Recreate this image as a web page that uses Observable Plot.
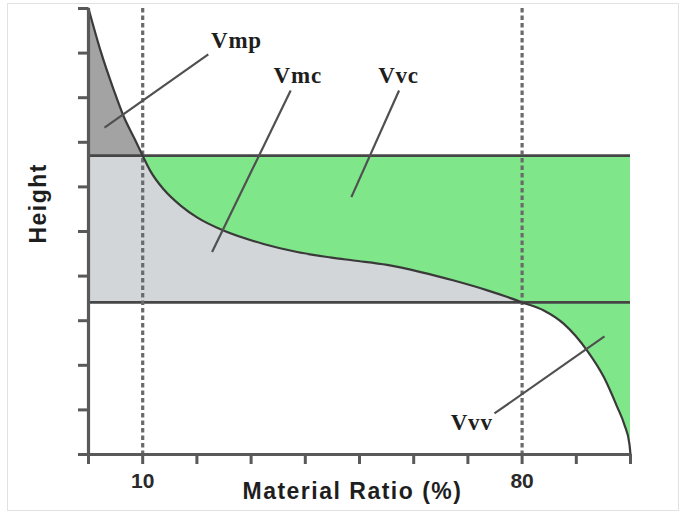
<!DOCTYPE html>
<html><head><meta charset="utf-8">
<script src="https://cdn.jsdelivr.net/npm/d3@7"></script>
<script src="https://cdn.jsdelivr.net/npm/@observablehq/plot@0.6"></script>
<style>
html,body{margin:0;padding:0;background:#fff;}
#wrap{position:relative;width:685px;height:516px;overflow:hidden;background:#fff;}
#frame{position:absolute;left:7px;top:3px;width:670px;height:506px;border:1.5px solid #dfe3e3;}
#chart{position:absolute;left:0;top:0;}
</style></head><body>
<div id="wrap"><div id="frame"></div><div id="chart"></div></div>
<script>
// Material ratio curve: material ratio (%) vs height (% of range)
const ratio  = [0, 2.2, 4.7, 6.6, 8.5, 10, 11.4, 13.9, 17.0, 20.1, 24.9, 32.3, 38.5, 44.6, 48.9, 55.1, 61.3, 67.4, 73.6, 77.3, 80, 84.0, 87.7, 92.0, 95.1, 97.5, 98.9, 99.8, 100];
const height = [100, 90.6, 81.6, 75.5, 70.8, 67, 63.6, 59.4, 55.8, 53.1, 50.2, 47.2, 45.4, 44.2, 43.5, 42.5, 40.9, 39.0, 36.8, 35.3, 34.1, 32.3, 29.3, 23.3, 17.3, 10.8, 6.6, 2.4, 0];

// Threshold levels and material-ratio cut points
const upperLevel = 67;
const lowerLevel = 34.1;
const ratioMarks = [10, 80];

// Annotation labels and leader lines
const annLabels = ["Vmp", "Vmc", "Vvc", "Vvv"];
const annX = [27.3, 38.6, 57.2, 70.7];
const annY = [91.2, 83.4, 83.4, 5.5];
const leadX1 = [22.1, 37.3, 57.3, 95.2];
const leadY1 = [89.7, 81.6, 81.6, 26.5];
const leadX2 = [2.95, 22.8, 48.5, 74.9];
const leadY2 = [73.3, 45.4, 57.7, 9.2];

// Axis ticks and labels
const xTicks = [0, 10, 20, 30, 40, 50, 60, 70, 80, 90, 100];
const xTickLabels = ["", "10", "", "", "", "", "", "", "80", "", ""];
const yTicks = [0, 10, 20, 30, 40, 50, 60, 70, 80, 90, 100];
const xTitle = "Material Ratio (%)";
const yTitle = "Height";

const pts = ratio.map((r, i) => ({r, h: height[i]}));
const peak = pts.filter(d => d.r <= ratioMarks[0]);
const core = pts.filter(d => d.r >= ratioMarks[0] && d.r <= ratioMarks[1]);
const valley = pts.filter(d => d.r >= ratioMarks[0]);
const coreLeft = [{r: 0}, {r: ratioMarks[0]}];
const ann = annLabels.map((t, i) => ({t, x: annX[i], y: annY[i]}));
const leads = leadX1.map((x1, i) => ({x1, y1: leadY1[i], x2: leadX2[i], y2: leadY2[i]}));

const axisColor = "#595959";

const chart = Plot.plot({
  width: 685, height: 516,
  marginLeft: 88, marginRight: 55, marginTop: 8, marginBottom: 62,
  x: {domain: [0, 100]},
  y: {domain: [0, 100]},
  style: {fontFamily: "'Liberation Sans', Arial, sans-serif", background: "transparent", overflow: "visible"},
  marks: [
    Plot.areaY(peak, {x: "r", y1: upperLevel, y2: "h", fill: "#a3a3a3", curve: "monotone-x"}),
    Plot.areaY(coreLeft, {x: "r", y1: lowerLevel, y2: upperLevel, fill: "#d3d6d8"}),
    Plot.areaY(core, {x: "r", y1: lowerLevel, y2: "h", fill: "#d3d6d8", curve: "monotone-x"}),
    Plot.areaY(valley, {x: "r", y1: "h", y2: upperLevel, fill: "#80e68a", curve: "monotone-x"}),
    Plot.ruleY([upperLevel, lowerLevel], {stroke: "#464646", strokeWidth: 2.8}),
    Plot.ruleX(ratioMarks, {stroke: "#6a6a6a", strokeWidth: 3.2, strokeDasharray: "4.5,3"}),
    Plot.line(pts, {x: "r", y: "h", stroke: "#3a3a3a", strokeWidth: 2.2, curve: "monotone-x"}),
    Plot.link(leads, {x1: "x1", y1: "y1", x2: "x2", y2: "y2", stroke: "#505050", strokeWidth: 2.2}),
    Plot.text(ann, {x: "x", y: "y", text: "t", fontFamily: "'Liberation Serif', 'Times New Roman', serif",
      fontWeight: "bold", fontSize: 23, lineAnchor: "bottom", fill: "#1e1e1e", ariaDescription: "annot"}),
    Plot.axisX({ticks: xTicks, tickSize: 10, tickPadding: 9, label: null,
      tickFormat: d => xTickLabels[xTicks.indexOf(d)], fontSize: 21, fontWeight: "bold", fill: "#2a2a2a",
      stroke: axisColor, strokeWidth: 3}),
    Plot.axisY({ticks: yTicks, tickSize: 10, label: null, tickFormat: () => "",
      stroke: axisColor, strokeWidth: 3}),
    Plot.ruleY([0], {stroke: axisColor, strokeWidth: 3.2}),
    Plot.ruleX([0], {stroke: axisColor, strokeWidth: 3.2}),
    Plot.text([xTitle], {x: 48.7, frameAnchor: "bottom", dy: 44, lineAnchor: "bottom",
      text: d => d, fontSize: 23, fontWeight: "bold", fill: "#1e1e1e", ariaDescription: "xtitle"}),
    Plot.text([yTitle], {y: 47.3, frameAnchor: "left", dx: -50, rotate: -90, lineAnchor: "middle",
      text: d => d, fontSize: 23, fontWeight: "bold", fill: "#1e1e1e", ariaDescription: "ytitle"})
  ]
});
document.getElementById("chart").appendChild(chart);
chart.querySelectorAll('g[aria-description="annot"] text').forEach(t => t.style.letterSpacing = "0.8px");
chart.querySelectorAll('g[aria-description="xtitle"] text, g[aria-description="ytitle"] text').forEach(t => t.style.letterSpacing = "1.5px");
</script>
</body></html>
